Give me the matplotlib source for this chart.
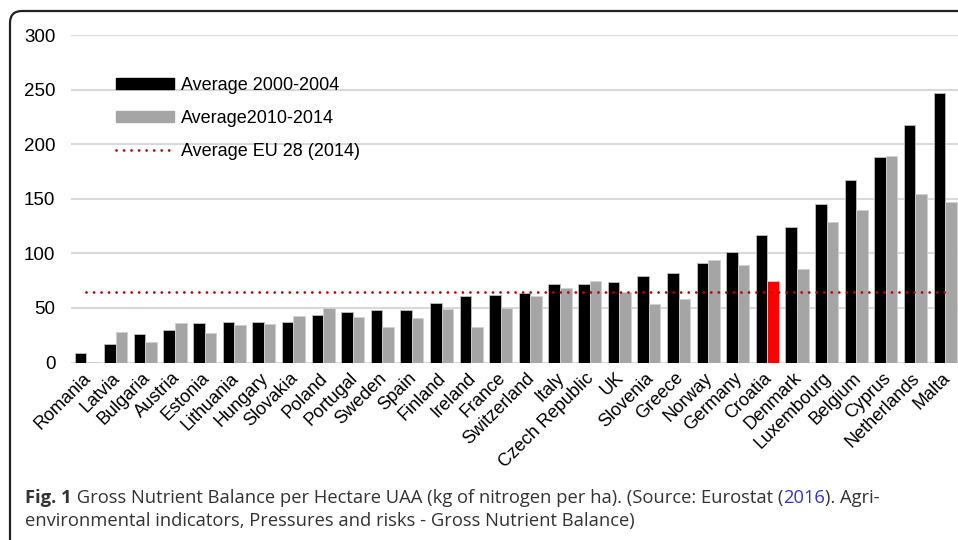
import matplotlib.pyplot as plt
import matplotlib.patches as mpatches
from matplotlib.lines import Line2D
from matplotlib.transforms import IdentityTransform, ScaledTranslation
import numpy as np

# ======================
# DATA (kg of nitrogen per ha)
# ======================
countries = ['Romania', 'Latvia', 'Bulgaria', 'Austria', 'Estonia', 'Lithuania',
             'Hungary', 'Slovakia', 'Poland', 'Portugal', 'Sweden', 'Spain',
             'Finland', 'Ireland', 'France', 'Switzerland', 'Italy',
             'Czech Republic', 'UK', 'Slovenia', 'Greece', 'Norway', 'Germany',
             'Croatia', 'Denmark', 'Luxembourg', 'Belgium', 'Cyprus',
             'Netherlands', 'Malta']

avg_2000_2004 = [9, 17, 26, 30, 36, 37, 37, 37, 44, 46, 48, 48,
                 55, 61, 62, 64, 72, 72, 74, 79, 82, 91, 101,
                 117, 124, 145, 167, 188, 218, 247]

avg_2010_2014 = [1, 28, 19, 36, 27, 34, 35, 43, 50, 42, 33, 41,
                 49, 33, 50, 61, 68, 75, 65, 54, 58, 94, 89,
                 75, 86, 129, 140, 189, 154, 147]

eu28_2014 = 65
highlight = 'Croatia'

# ======================
# FIGURE
# ======================
plt.rcParams['font.family'] = ['Liberation Sans', 'DejaVu Sans']

fig = plt.figure(figsize=(9.58, 5.40), dpi=100)
ax = fig.add_axes([71.3 / 958, 177.4 / 540, 888.6 / 958, 327.6 / 540])

x = np.arange(len(countries))
w = 0.39

grey_colors = ['#ff0000' if c == highlight else '#a5a5a5' for c in countries]

ax.bar(x - w / 2, avg_2000_2004, w, color='black', edgecolor='#bfbfbf',
       linewidth=0.6, zorder=3)
ax.bar(x + w / 2, avg_2010_2014, w, color=grey_colors, edgecolor='#d0d0d0',
       linewidth=0.6, zorder=3)

ax.plot([x[0], x[-1]], [eu28_2014, eu28_2014], color='#c00000',
        linewidth=2.0, linestyle=(0, (0.01, 2.7)),
        dash_capstyle='round', zorder=4)

ax.set_xlim(-0.5, len(countries) - 0.5)
ax.set_ylim(0, 300)
ax.set_yticks(range(0, 301, 50))
ax.yaxis.grid(True, color='#d9d9d9', linewidth=1.5, zorder=0)
ax.set_axisbelow(True)

for s in ax.spines.values():
    s.set_visible(False)

ax.tick_params(axis='both', length=0, colors='black')
ax.tick_params(axis='y', pad=11.5, labelsize=13.5)
ax.tick_params(axis='x', pad=5, labelsize=13)
ax.set_xticks(x)
ax.set_xticklabels(countries, rotation=45, ha='right', va='top',
                   rotation_mode='anchor')

# nudge the slanted labels a little to the left, like the original
shift = ScaledTranslation(-4 / 100, 0, fig.dpi_scale_trans)
for lab in ax.get_xticklabels():
    lab.set_transform(lab.get_transform() + shift)

# ======================
# LEGEND
# ======================
handles = [
    mpatches.Patch(color='black'),
    mpatches.Patch(color='#a5a5a5'),
    Line2D([0], [0], color='#c00000', linewidth=2.0,
           linestyle=(0, (0.01, 2.7)), dash_capstyle='round'),
]
labels = ['Average 2000-2004', 'Average2010-2014', 'Average EU 28 (2014)']

fig.legend(handles, labels, loc='upper left',
           bbox_to_anchor=(116 / 958, 1 - 77 / 540), frameon=False,
           fontsize=13, borderpad=0, borderaxespad=0,
           handlelength=3.2, handleheight=0.55, handletextpad=0.4,
           labelspacing=0.89)

# ======================
# FRAME AROUND THE FIGURE PANEL
# ======================
frame = mpatches.FancyBboxPatch((10, -30), 1000, 540 - 11 + 30,
                                boxstyle='round,pad=0,rounding_size=12',
                                transform=IdentityTransform(),
                                facecolor='none', edgecolor='#222222',
                                linewidth=1.6, clip_on=False)
fig.patches.append(frame)

# ======================
# CAPTION
# ======================
cap_font = ['Open Sans', 'DejaVu Sans']
cap_color = '#333333'
cap_size = 13.2
t1 = fig.text(25 / 958, 1 - 498 / 540, 'Fig. 1', fontsize=cap_size,
              fontweight='bold', family=cap_font, color=cap_color,
              va='center')
a2 = fig.text(0, 0, ' Gross Nutrient Balance per Hectare UAA (kg of nitrogen per ha). (Source: Eurostat (',
              fontsize=cap_size, family=cap_font, color=cap_color)
a2.remove()
a2 = plt.annotate(' Gross Nutrient Balance per Hectare UAA (kg of nitrogen per ha). (Source: Eurostat (',
                  xy=(1, 0), xycoords=t1, va='bottom', fontsize=cap_size,
                  family=cap_font, color=cap_color, annotation_clip=False)
a3 = plt.annotate('2016', xy=(1, 0), xycoords=a2, va='bottom',
                  fontsize=cap_size, family=cap_font, color='#3333dd',
                  annotation_clip=False)
a4 = plt.annotate('). Agri-', xy=(1, 0), xycoords=a3, va='bottom',
                  fontsize=cap_size, family=cap_font, color=cap_color,
                  annotation_clip=False)
fig.text(25 / 958, 1 - 521 / 540,
         'environmental indicators, Pressures and risks - Gross Nutrient Balance)',
         fontsize=cap_size, family=cap_font, color=cap_color, va='center')

plt.savefig('out.png', dpi=100)
